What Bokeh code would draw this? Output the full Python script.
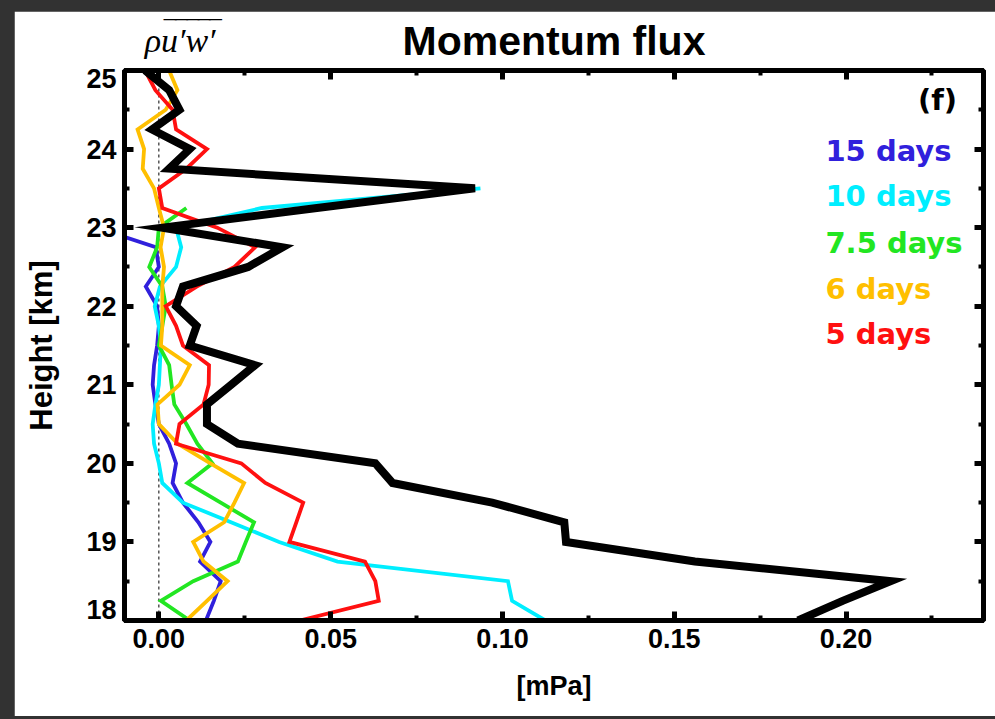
import json
from bokeh.plotting import figure
from bokeh.models import LinearAxis, Label, Span, FixedTicker, Range1d, CustomJSTickFormatter
from bokeh.embed import file_html
from bokeh.resources import INLINE

# ---------------- data ----------------
height_km = [18.0, 18.25, 18.5, 18.75, 19.0, 19.25, 19.5, 19.75, 20.0, 20.25,
             20.5, 20.75, 21.0, 21.25, 21.5, 21.75, 22.0, 22.25, 22.5, 22.75,
             23.0, 23.25, 23.5, 23.75, 24.0, 24.25, 24.5, 24.75, 25.0]

flux_total = [0.186, 0.199, 0.213, 0.156, 0.1185, 0.118, 0.097, 0.068, 0.063, 0.023,
              0.014, 0.014, 0.021, 0.028, 0.009, 0.011, 0.005, 0.007, 0.026, 0.036,
              0.001, 0.046, 0.092, 0.003, 0.009, -0.002, 0.006, 0.003, -0.004]

flux_15d = [0.0137, 0.016, 0.018, 0.012, 0.015, 0.0115, 0.007, 0.004, 0.005, 0.003,
            0.0, -0.001, -0.0018, -0.0014, -0.0005, 0.0, -0.0005, -0.0038, 0.0, -0.0009,
            -0.018]

flux_10d = [0.1125, 0.1028, 0.1016, 0.052, 0.035, 0.021, 0.007, 0.001, 0.0, -0.0014,
            -0.0018, -0.001, 0.0, 0.0003, 0.0006, 0.0, -0.0012, 0.0003, 0.005, 0.0065,
            0.005, 0.03, 0.0936]

flux_7_5d = [0.009, 0.0006, 0.010, 0.023, 0.0253, 0.0277, 0.018, 0.0083, 0.0156, 0.0112,
             0.008, 0.0045, 0.0037, 0.003, 0.0, 0.001, 0.002, 0.001, -0.0028, -0.0005,
             0.0, 0.008]

flux_6d = [0.008, 0.014, 0.020, 0.013, 0.010, 0.019, 0.022, 0.0248, 0.015, 0.0055,
           0.0, -0.0004, 0.006, 0.009, 0.0006, 0.001, 0.001, 0.001, 0.0015, 0.0005,
           0.0015, 0.0, -0.0014, -0.0047, -0.0043, -0.0062, 0.002, 0.0054, 0.003]

flux_5d = [0.041, 0.064, 0.063, 0.060, 0.038, 0.040, 0.042, 0.031, 0.024, 0.005,
           0.006, 0.013, 0.0145, 0.0146, 0.007, 0.005, 0.002, 0.011, 0.022, 0.028,
           0.017, 0.001, 0.0, 0.008, 0.014, 0.005, 0.004, -0.001, -0.004]

series_names = ["15 days", "10 days", "7.5 days", "6 days", "5 days"]
series_values = [flux_15d, flux_10d, flux_7_5d, flux_6d, flux_5d]
series_colors = ["#3020dc", "#00eeff", "#22e622", "#ffbf00", "#ff1010"]

x_ticks = [0.0, 0.05, 0.10, 0.15, 0.20]
x_minor = [0.025, 0.075, 0.125, 0.175, 0.225]
y_ticks = [18, 19, 20, 21, 22, 23, 24, 25]
y_minor = [18.5, 19.5, 20.5, 21.5, 22.5, 23.5, 24.5]
x_lo, x_hi = -0.01, 0.24
y_lo, y_hi = 18.0, 25.0
zero_line = 0.0

title_text = "Momentum flux"
flux_symbol = "\u03c1u\u2032w\u2032"      # rho u'w'
overbar = "\u203e" * 5                    # bar drawn over u'w'

# ---------------- figure ----------------
FONT = "Liberation Sans"
p = figure(width=981, height=705, output_backend="svg", toolbar_location=None,
           x_range=Range1d(x_lo, x_hi), y_range=Range1d(y_lo, y_hi),
           min_border_left=110, min_border_right=12, min_border_top=59,
           min_border_bottom=96)
p.title.visible = False
p.background_fill_color = "white"
p.border_fill_color = "white"
p.outline_line_color = "black"
p.outline_line_width = 5
p.xgrid.visible = False
p.ygrid.visible = False


def style_axis(ax, ticks, minor, show_labels):
    ax.ticker = FixedTicker(ticks=ticks, minor_ticks=minor)
    ax.axis_line_width = 5
    ax.axis_line_color = "black"
    ax.major_tick_in = 9
    ax.major_tick_out = 0
    ax.minor_tick_in = 5
    ax.minor_tick_out = 0
    ax.major_tick_line_width = 5
    ax.minor_tick_line_width = 4
    ax.major_label_text_font = FONT
    ax.major_label_text_font_style = "bold"
    ax.major_label_text_font_size = "27px"
    ax.major_label_text_color = "black"
    ax.axis_label_text_font = FONT
    ax.axis_label_text_font_style = "bold"
    ax.axis_label_text_font_size = "27px"
    ax.axis_label_text_color = "black"
    if not show_labels:
        ax.formatter = CustomJSTickFormatter(code="return '';")
        ax.major_label_standoff = 0


# bottom axis
style_axis(p.xaxis[0], x_ticks, x_minor, True)
p.xaxis[0].formatter = CustomJSTickFormatter(code="return tick.toFixed(2);")
p.xaxis[0].axis_label = "[mPa]"
p.xaxis[0].major_label_standoff = 8
p.xaxis[0].axis_label_standoff = 20

# left axis: ticks only; a second left axis carries the labels (end labels
# nudged inside the frame like in the reference)
style_axis(p.yaxis[0], y_ticks, y_minor, False)
y_label_at = [t for t in y_ticks]
y_label_at[0] = y_ticks[0] + 0.14
y_label_at[-1] = y_ticks[-1] - 0.10
left_labels = LinearAxis()
style_axis(left_labels, y_label_at, [], True)
left_labels.axis_line_color = None
left_labels.major_tick_in = 0
left_labels.minor_tick_in = 0
left_labels.major_tick_line_color = None
left_labels.minor_tick_line_color = None
left_labels.formatter = CustomJSTickFormatter(code="return Math.round(tick).toString();")
left_labels.major_label_standoff = 8
left_labels.axis_label = "Height [km]"
left_labels.axis_label_text_font_size = "31px"
left_labels.axis_label_standoff = 24
p.add_layout(left_labels, "left")

# top axis: mirrored ticks, the flux symbol at x = 0 and the title as axis label
top_axis = LinearAxis()
style_axis(top_axis, x_ticks, x_minor, True)
sym_text = "\u00a0" * 8 + overbar + "\n" + "\u00a0" * 5 + flux_symbol
top_axis.formatter = CustomJSTickFormatter(
    code="return (Math.abs(tick) < 1e-9) ? %s : '';" % json.dumps(sym_text))
top_axis.major_label_text_font = "Liberation Serif"
top_axis.major_label_text_font_style = "italic"
top_axis.major_label_text_font_size = "34px"
top_axis.major_label_text_line_height = 0.15
top_axis.major_label_standoff = 12
top_axis.axis_label = title_text
top_axis.axis_label_text_font = FONT
top_axis.axis_label_text_font_style = "bold"
top_axis.axis_label_text_font_size = "41px"
top_axis.axis_label_standoff = -51
p.add_layout(top_axis, "above")

right_axis = LinearAxis()
style_axis(right_axis, y_ticks, y_minor, False)
p.add_layout(right_axis, "right")

# dashed zero line
p.add_layout(Span(location=zero_line, dimension="height", line_color="black",
                  line_width=1, line_dash="3 3", level="underlay"))

# series
for vals, col in zip(series_values, series_colors):
    p.line(vals, height_km[:len(vals)], line_color=col, line_width=3.8,
           line_join="miter")
p.line(flux_total, height_km, line_color="black", line_width=8, line_join="miter")

# legend as coloured texts
leg_x = 0.194
leg_y = [23.98, 23.40, 22.81, 22.22, 21.65]
for name, col, ly in zip(series_names, series_colors, leg_y):
    p.add_layout(Label(x=leg_x, y=ly, text=name, text_color=col,
                       text_font="DejaVu Sans", text_font_style="bold",
                       text_font_size="29px", text_baseline="middle"))
p.add_layout(Label(x=0.2323, y=24.62, text="(f)", text_color="black",
                   text_font="DejaVu Sans", text_font_style="bold",
                   text_font_size="29px", text_baseline="middle", text_align="right"))

html = file_html(p, INLINE)
css = ("<style>html, body { background: #323232 !important; } "
       "body { padding: 11px 0 0 14px !important; margin: 0 !important; "
       "box-sizing: border-box !important; }</style>")
html = html.replace("</head>", css + "</head>", 1)
open("out.html", "w").write(html)
